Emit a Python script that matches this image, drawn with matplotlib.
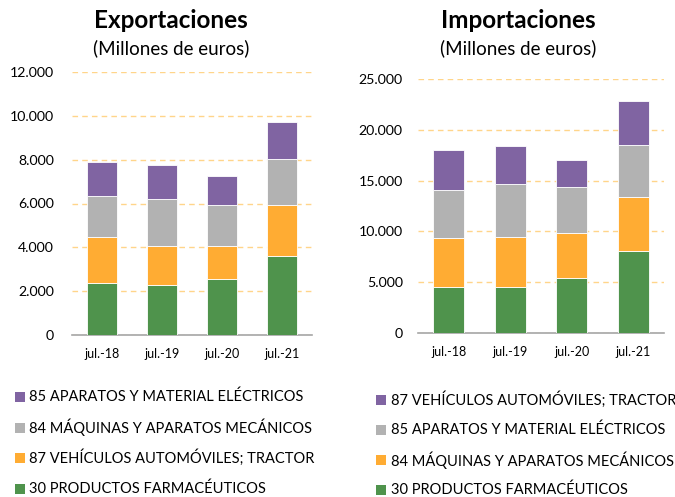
import matplotlib
matplotlib.use("Agg")
import matplotlib.pyplot as plt
from matplotlib.patches import Rectangle
from matplotlib.ticker import FuncFormatter
import numpy as np

plt.rcParams['font.family'] = ['Lato', 'DejaVu Sans']

categories = ["jul.-18", "jul.-19", "jul.-20", "jul.-21"]

# Exportaciones (millones de euros), bottom to top
exp_labels = ["30 PRODUCTOS FARMACÉUTICOS",
              "87 VEHÍCULOS AUTOMÓVILES; TRACTOR",
              "84 MÁQUINAS Y APARATOS MECÁNICOS",
              "85 APARATOS Y MATERIAL ELÉCTRICOS"]
exp_farma = [2390, 2270, 2560, 3610]
exp_vehic = [2060, 1810, 1520, 2300]
exp_maqui = [1870, 2120, 1830, 2100]
exp_elect = [1570, 1540, 1340, 1710]

# Importaciones (millones de euros), bottom to top
imp_labels = ["30 PRODUCTOS FARMACÉUTICOS",
              "84 MÁQUINAS Y APARATOS MECÁNICOS",
              "85 APARATOS Y MATERIAL ELÉCTRICOS",
              "87 VEHÍCULOS AUTOMÓVILES; TRACTOR"]
imp_farma = [4520, 4520, 5400, 8050]
imp_maqui = [4810, 4940, 4420, 5300]
imp_elect = [4770, 5170, 4550, 5200]
imp_vehic = [3900, 3760, 2650, 4290]

colors = ["#4F934C", "#FFAC33", "#B2B2B2", "#8064A2"]

W, H = 675, 497
fig = plt.figure(figsize=(6.75, 4.97), dpi=100)

def thousands(x, pos):
    return f"{int(x):,}".replace(",", ".")

def draw(ax, series, ymax, ystep, title, title_x, ypad):
    x = np.arange(len(categories))
    bottom = np.zeros(len(categories))
    for vals, c in zip(series, colors):
        ax.bar(x, vals, width=0.51, bottom=bottom, color=c,
               edgecolor="white", linewidth=0.6, zorder=3)
        bottom += np.array(vals)
    ax.set_xlim(-0.5, 3.5)
    ax.set_ylim(0, ymax)
    ax.set_yticks(np.arange(0, ymax + 1, ystep))
    ax.yaxis.set_major_formatter(FuncFormatter(thousands))
    ax.yaxis.grid(True, linestyle=(0, (4, 3)), color="#FFD58A", linewidth=1.0, zorder=0)
    ax.set_xticks(x)
    ax.set_xticklabels(categories, fontsize=9)
    for s in ["top", "right", "left"]:
        ax.spines[s].set_visible(False)
    ax.spines["bottom"].set_color("#A6A6A6")
    ax.spines["bottom"].set_linewidth(1.2)
    ax.tick_params(axis="y", length=0, labelsize=10.2, pad=ypad)
    ax.tick_params(axis="x", length=0, pad=9)
    fig.text(title_x / W, 1 - 21 / H, title, ha="center", va="center",
             fontsize=17.5, fontweight="bold")
    fig.text(title_x / W, 1 - 48 / H, "(Millones de euros)", ha="center",
             va="center", fontsize=13.5)

ax1 = fig.add_axes([72 / W, 1 - 335 / H, 240 / W, 263 / H])
draw(ax1, [exp_farma, exp_vehic, exp_maqui, exp_elect], 12000, 2000,
     "Exportaciones", 171, 13)

ax2 = fig.add_axes([418 / W, 1 - 333 / H, 246 / W, 254 / H])
draw(ax2, [imp_farma, imp_maqui, imp_elect, imp_vehic], 25000, 5000,
     "Importaciones", 518, 11)

def legend(labels, x_sq, x_txt, y0, dy):
    # top row is the last series (drawn on top of the stack)
    for i, (lab, c) in enumerate(zip(labels[::-1], colors[::-1])):
        yc = y0 + i * dy
        fig.add_artist(Rectangle((x_sq / W, 1 - (yc + 5) / H), 10 / W, 10 / H,
                                 transform=fig.transFigure, facecolor=c,
                                 edgecolor="none"))
        fig.text(x_txt / W, 1 - yc / H, lab, ha="left", va="center",
                 fontsize=10.5)

legend(exp_labels, 15, 29, 397, 30.5)
legend(imp_labels, 376, 391, 399.5, 30.2)

fig.savefig("out.png", dpi=100)
